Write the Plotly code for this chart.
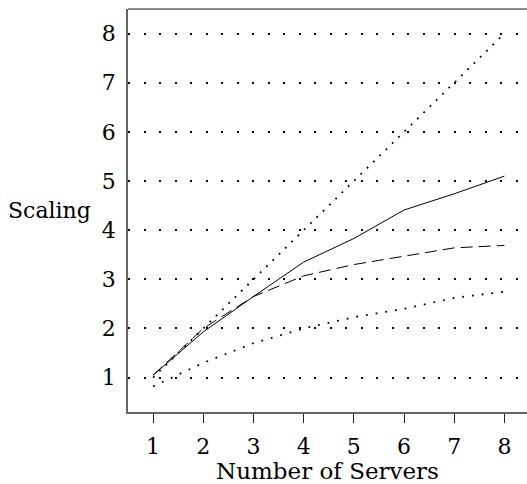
import plotly.graph_objects as go

servers = [1, 2, 3, 4, 5, 6, 7, 8]
ideal = [1, 2, 3, 4, 5, 6, 7, 8]
solid_series = [1.05, 1.93, 2.65, 3.35, 3.83, 4.41, 4.74, 5.1]
dashed_series = [1.05, 2.0, 2.65, 3.07, 3.3, 3.47, 3.64, 3.69]
low_dotted = [0.82, 1.3, 1.7, 2.0, 2.23, 2.4, 2.62, 2.75]
x_ticks = [1, 2, 3, 4, 5, 6, 7, 8]
y_ticks = [1, 2, 3, 4, 5, 6, 7, 8]

FONT = "DejaVu Serif"

fig = go.Figure()
fig.add_trace(go.Scatter(x=servers, y=ideal, mode="lines",
                         line=dict(color="black", width=1.8, dash="1.8px,7px")))
fig.add_trace(go.Scatter(x=servers, y=solid_series, mode="lines",
                         line=dict(color="black", width=1)))
fig.add_trace(go.Scatter(x=servers, y=dashed_series, mode="lines",
                         line=dict(color="black", width=1, dash="12px,6px")))
fig.add_trace(go.Scatter(x=servers, y=low_dotted, mode="lines",
                         line=dict(color="black", width=1.8, dash="1.8px,8px")))

fig.update_layout(
    width=527, height=484,
    margin=dict(l=128, r=0, t=9, b=72),
    paper_bgcolor="white", plot_bgcolor="white",
    showlegend=False,
    font=dict(family=FONT, size=22, color="black"),
    xaxis=dict(range=[0.5, 8.45], tickvals=x_ticks, ticks="outside", ticklen=9,
               tickcolor="#222", tickwidth=1.2,
               showline=True, linecolor="#666", linewidth=1.5,
               showgrid=False, zeroline=False,
               tickfont=dict(family=FONT, size=22),
               ticklabelstandoff=5,
               title=dict(text="Number of Servers", font=dict(family=FONT, size=23), standoff=0)),
    yaxis=dict(range=[0.3, 8.5], tickvals=y_ticks, ticks="",
               showline=True, linecolor="#666", linewidth=1.5,
               showgrid=True, gridcolor="black", gridwidth=2, griddash="2px,13.5px",
               zeroline=False,
               tickfont=dict(family=FONT, size=22),
               ticklabelstandoff=6),
)
fig.add_shape(type="line", xref="paper", yref="paper", x0=0, x1=1, y0=1, y1=1,
              line=dict(color="#666", width=1.5))
fig.add_annotation(text="Scaling", xref="paper", yref="paper", x=0, y=0.5,
                   xanchor="right", yanchor="middle", xshift=-35, showarrow=False,
                   font=dict(family=FONT, size=22))

fig.write_html("out.html", config={"displayModeBar": False},
               post_script="document.body.style.margin='0px';document.body.style.overflow='hidden';"
                           "document.querySelectorAll('.nsewdrag,.drag').forEach(function(e){e.style.stroke='none';});")
